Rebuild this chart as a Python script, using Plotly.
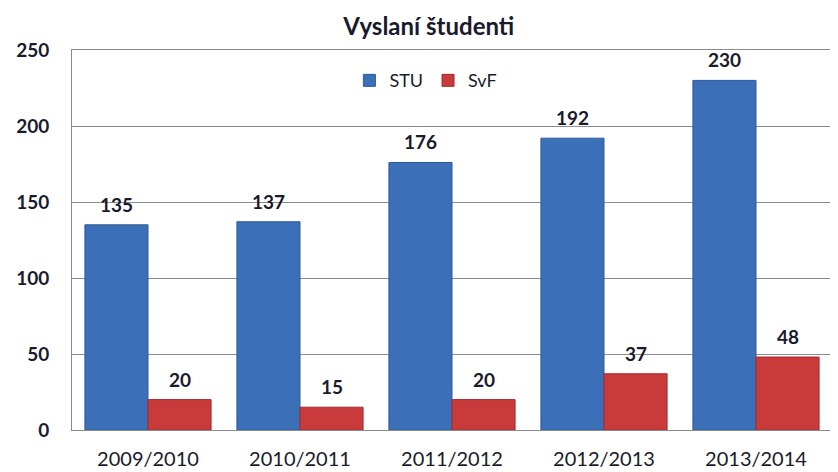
import plotly.graph_objects as go

categories = ["2009/2010", "2010/2011", "2011/2012", "2012/2013", "2013/2014"]
series_names = ["STU", "SvF"]
stu = [135, 137, 176, 192, 230]
svf = [20, 15, 20, 37, 48]
y_ticks = [0, 50, 100, 150, 200, 250]

FONT = "Lato, 'Open Sans', sans-serif"
TXT = "#1a1a2e"
BARGAP = 0.17

fig = go.Figure()
fig.add_trace(go.Bar(
    x=categories, y=stu, name=series_names[0],
    marker=dict(color="#3b70b9", line=dict(color="#2c5a98", width=1)),
))
fig.add_trace(go.Bar(
    x=categories, y=svf, name=series_names[1],
    marker=dict(color="#c93a3b", line=dict(color="#a52a2c", width=1)),
))

# value labels above bars, placed through the axis coordinates
half = (1 - BARGAP) / 4
annotations = []
for i, (a, b) in enumerate(zip(stu, svf)):
    for val, off in ((a, -half), (b, half)):
        annotations.append(dict(
            x=i + off, y=val, xref="x", yref="y", text=f"<b>{val}</b>",
            showarrow=False, yanchor="bottom", yshift=7,
            font=dict(family=FONT, size=19, color=TXT),
        ))

fig.update_layout(
    width=830, height=464,
    margin=dict(l=64, r=6, t=42, b=42),
    paper_bgcolor="white", plot_bgcolor="white",
    barmode="group", bargap=BARGAP, bargroupgap=0,
    title=dict(text="<b>Vyslaní študenti</b>", x=0.507, xanchor="center", y=0.959, yanchor="middle",
               font=dict(family=FONT, size=24, color=TXT)),
    legend=dict(orientation="h", x=0.365, y=0.968, xanchor="left", yanchor="top",
                font=dict(family=FONT, size=18, color=TXT), bgcolor="rgba(0,0,0,0)",
                tracegroupgap=0),
    font=dict(family=FONT, color=TXT),
    annotations=annotations,
)
fig.update_yaxes(range=[0, 250], tickvals=y_ticks, showgrid=True, gridcolor="#8c8c8c", gridwidth=1,
                 zeroline=False, showline=True, linecolor="#8c8c8c", automargin=False,
                 tickfont=dict(family=FONT, size=19, color=TXT, weight="bold"),
                 ticklabelstandoff=18, fixedrange=True)
fig.update_xaxes(showline=True, linecolor="#8c8c8c", mirror=True, automargin=False,
                 tickfont=dict(family=FONT, size=20, color=TXT),
                 ticklabelstandoff=11)

fig.write_html("out.html")
